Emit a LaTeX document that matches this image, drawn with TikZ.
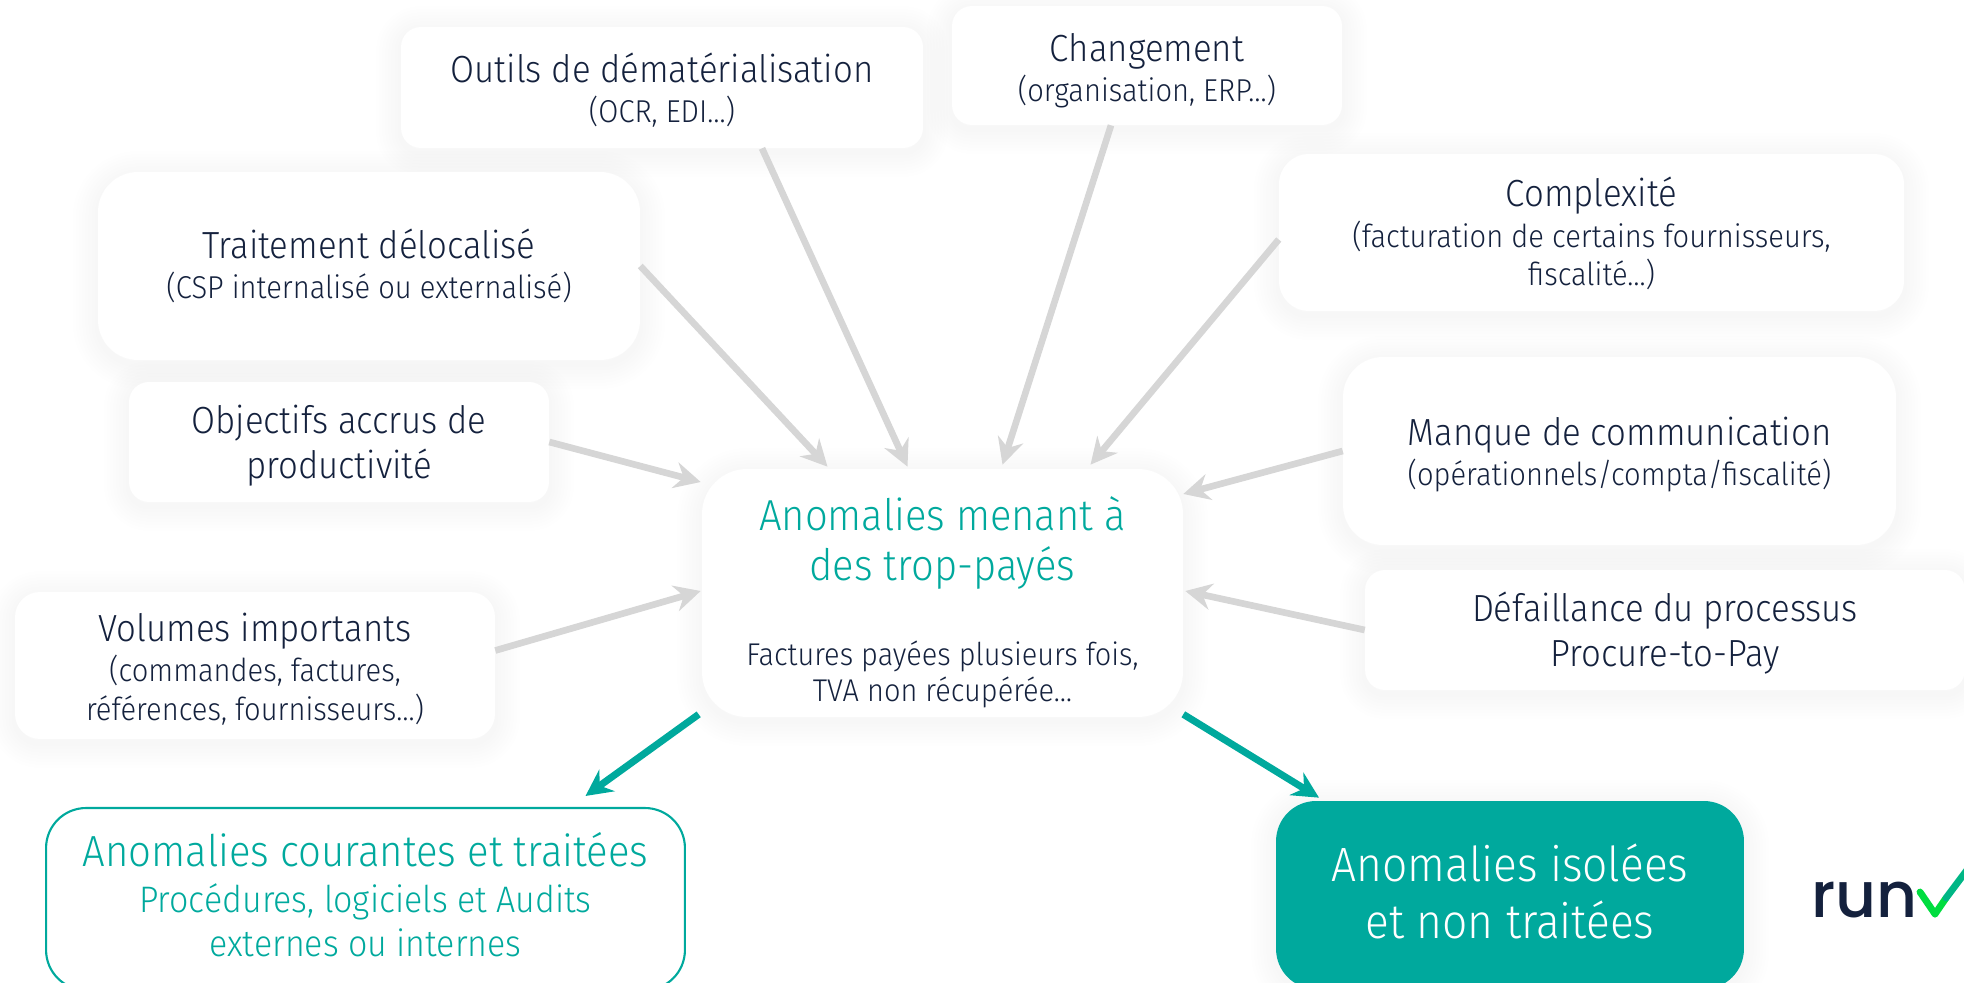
\documentclass[tikz,border=0pt]{standalone}
\usepackage{fontspec}
\setmainfont[FakeStretch=0.92]{Fira Sans Light}
\newfontfamily\logofont{Poppins Medium}
\usetikzlibrary{arrows.meta,calc,backgrounds}
\definecolor{navy}{HTML}{14213D}
\definecolor{teal}{HTML}{00A99D}
\definecolor{greyarrow}{HTML}{D6D6D6}
\newcommand{\sub}{\fontsize{18}{23}\selectfont}
\newcommand{\hausse}[1]{\rule{0pt}{#1pt}}
\tikzset{
  boite/.style={rounded corners=#1, fill=white, inner sep=0pt, align=center, text=navy, font=\fontsize{21.5}{23}\selectfont},
  boite/.default=0.4cm,
  grisfleche/.style={draw=greyarrow, line width=3.8pt, -{Stealth[length=15pt,width=15pt,inset=5pt]}},
  tealfleche/.style={draw=teal, line width=4pt, -{Stealth[length=15pt,width=15pt,inset=5pt]}}
}
\begin{document}
\begin{tikzpicture}[x=0.02cm,y=-0.02cm]
  \useasboundingbox (0,0) rectangle (1964,983);
  \node[boite, minimum width=10.44cm, minimum height=2.42cm] (outils) at (662,87.5) {\hausse{20}Outils de dématérialisation\\ \sub (OCR, EDI…)};
  \node[boite, minimum width=7.8cm, minimum height=2.38cm] (chang) at (1147,65.5) {\hausse{22}Changement\\ \sub (organisation, ERP…)};
  \node[boite=0.8cm, minimum width=10.84cm, minimum height=3.76cm] (trait) at (369,266) {\hausse{17}Traitement délocalisé\\ \sub (CSP internalisé ou externalisé)};
  \node[boite=0.6cm, minimum width=12.5cm, minimum height=3.14cm] (compl) at (1591.5,232.5) {\hausse{18}Complexité\\ \sub (facturation de certains fournisseurs,\\[-1pt] \sub fiscalité…)};
  \node[boite, minimum width=8.4cm, minimum height=2.4cm] (obj) at (339,442) {\hausse{20}Objectifs accrus de\\[2.6pt] productivité};
  \node[boite=0.8cm, minimum width=11.06cm, minimum height=3.76cm] (manque) at (1619.5,451) {\hausse{20}Manque de communication\\ \sub (opérationnels/compta/fiscalité)};
  \node[boite=0.9cm, font=\fontsize{24.7}{22}\selectfont, minimum width=9.62cm, minimum height=4.96cm] (centre) at (942.5,593)
    {\hausse{30}\color{teal}Anomalies menant à\\[6.5pt] \color{teal}des trop-payés\\[26.5pt] \color{navy}\fontsize{17.9}{22}\selectfont Factures payées plusieurs fois,\\[-1.5pt] \color{navy}\fontsize{17.9}{22}\selectfont TVA non récupérée…};
  \node[boite, minimum width=12cm, minimum height=2.4cm] (defa) at (1665,630) {\hausse{20}Défaillance du processus\\[2.6pt] Procure-to-Pay};
  \node[boite=0.5cm, minimum width=9.6cm, minimum height=2.94cm] (vol) at (255,665.5) {\hausse{20}Volumes importants\\ \sub (commandes, factures,\\[-1pt] \sub références, fournisseurs…)};
  \node[rounded corners=0.8cm, draw=teal, line width=1.2pt, text=teal, align=center, inner sep=0pt, font=\fontsize{21}{25}\selectfont, minimum width=12.78cm, minimum height=3.64cm] (cour) at (365.5,899)
    {\fontsize{24.8}{25}\selectfont Anomalies courantes et traitées\\[1.5pt] Procédures, logiciels et Audits\\ externes ou internes\rule[-5pt]{0pt}{1pt}};
  \node[boite=0.8cm, fill=teal, text=white, font=\fontsize{27.4}{32.4}\selectfont, minimum width=9.36cm, minimum height=3.76cm] (iso) at (1510,895)
    {Anomalies isolées\\ et non traitées\rule[-4pt]{0pt}{1pt}};
  \begin{scope}[on background layer]
    \foreach \n/\r in {outils/0.4cm,chang/0.4cm,trait/0.8cm,compl/0.6cm,obj/0.4cm,manque/0.8cm,centre/0.9cm,defa/0.4cm,vol/0.5cm,iso/0.8cm}
      \foreach \s in {1,...,8}
        \draw[black, opacity=0.0035, line width=\s*3.5pt, rounded corners=\r] ($(\n.south west)+(0,4)$) rectangle ($(\n.north east)+(0,4)$);
  \end{scope}
  \draw[grisfleche] (trait.east) -- ($(centre.north)+(-115,-2)$);
  \draw[grisfleche] ($(outils.south)+(100,0)$) -- ($(centre.north)+(-35,-2)$);
  \draw[grisfleche] ($(chang.south)+(-36,0)$) -- ($(centre.north)+(60,-4)$);
  \draw[grisfleche] ($(compl.west)+(0,7)$) -- ($(centre.north)+(148,-4)$);
  \draw[grisfleche] (manque.west) -- ($(centre.east)+(0,-99)$);
  \draw[grisfleche] (defa.west) -- ($(centre.east)+(2,-2)$);
  \draw[grisfleche] (obj.east) -- ($(centre.west)+(-1,-111)$);
  \draw[grisfleche] ($(vol.east)+(0,-15)$) -- ($(centre.west)+(-1,-2)$);
  \draw[tealfleche] ($(centre.south west)+(-3,-3)$) -- ($(cour.north)+(220,-11)$);
  \draw[tealfleche] ($(centre.south east)+(0,-3)$) -- ($(iso.north)+(-191,-3)$);
  \node[inner sep=0pt, anchor=base west, text=navy] (logo) at (1811,917) {\logofont\fontsize{36}{36}\selectfont run};
  \draw[line width=3.9pt, line cap=round, line join=round, color=green!60!teal] (1920,892) -- (1935,914);
  \draw[line width=3.9pt, line cap=round, color=green!60!teal] (1935,914) -- (1946,898);
  \draw[line width=3.9pt, line cap=round, color=teal!85!green] (1946,898) -- (1970,866);
\end{tikzpicture}
\end{document}
